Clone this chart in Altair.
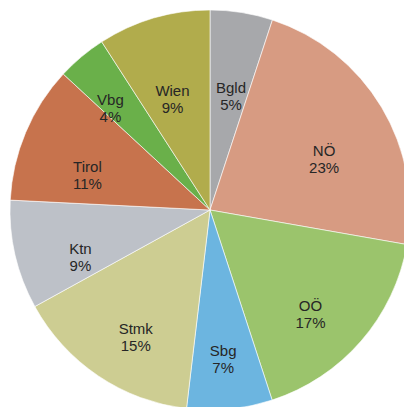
import altair as alt
import pandas as pd

regions = ["Bgld", "NÖ", "OÖ", "Sbg", "Stmk", "Ktn", "Tirol", "Vbg", "Wien"]
shares = [5.05, 22.7, 17.2, 6.9, 15.1, 8.8, 11.1, 4.0, 9.1]
pct_labels = ["5%", "23%", "17%", "7%", "15%", "9%", "11%", "4%", "9%"]
colors = ["#a7a8ab", "#d79b82", "#9bc46c", "#6cb5e0", "#cdcd92",
          "#bdc1c8", "#c7734d", "#6ab04a", "#b1ac4c"]

df = pd.DataFrame({
    "region": regions,
    "share": shares,
    "pct": pct_labels,
    "idx": list(range(len(regions))),
})
df["label"] = df["region"] + "\n" + df["pct"]

base = alt.Chart(df).encode(
    theta=alt.Theta("share:Q", stack=True),
    order=alt.Order("idx:Q"),
    x=alt.value(210),
    y=alt.value(210),
)

pie = base.mark_arc(radius=200, stroke="white", strokeWidth=0.6).encode(
    color=alt.Color("region:N", scale=alt.Scale(domain=regions, range=colors), legend=None)
)

labels = base.mark_text(
    radius=alt.ExprRef("datum.region === 'Vbg' ? 155 : 133"),
    dy=9, fontSize=15, lineHeight=17, font="Liberation Sans",
    color="#262626", lineBreak="\n", align="center", baseline="middle"
).encode(
    text="label:N",
)

chart = alt.layer(pie, labels).properties(
    width=404, height=407,
    autosize=alt.AutoSizeParams(type="none"),
    padding=0,
).configure_view(strokeWidth=0)

chart.save("out.html", embed_options={"renderer": "svg", "actions": False})
